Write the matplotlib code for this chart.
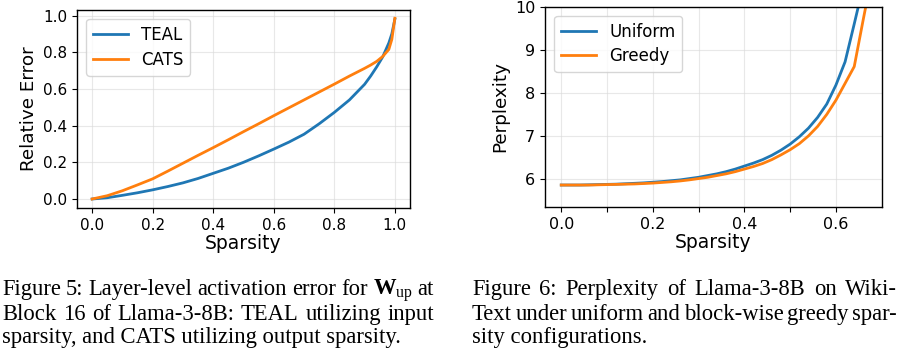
import matplotlib

matplotlib.use("Agg")
import matplotlib.pyplot as plt

plt.rcParams["font.family"] = "DejaVu Sans"
plt.rcParams["mathtext.fontset"] = "custom"
plt.rcParams["mathtext.rm"] = "Liberation Serif"
plt.rcParams["mathtext.bf"] = "Liberation Serif:bold"

# Figure 5: layer-level relative error vs sparsity
err_sparsity = [0.0, 0.05, 0.1, 0.15, 0.2, 0.25, 0.3, 0.35, 0.4, 0.45, 0.5, 0.55, 0.6,
                0.65, 0.7, 0.75, 0.8, 0.85, 0.9, 0.92, 0.94, 0.96, 0.98, 0.99, 1.0]
teal_error = [0.0, 0.007, 0.02, 0.034, 0.05, 0.068, 0.088, 0.112, 0.14, 0.168, 0.2, 0.235, 0.272,
              0.31, 0.353, 0.41, 0.472, 0.54, 0.625, 0.67, 0.72, 0.775, 0.85, 0.9, 0.98]
cats_error = [0.0, 0.018, 0.045, 0.077, 0.11, 0.152, 0.195, 0.238, 0.28, 0.323, 0.367, 0.41, 0.454,
              0.497, 0.54, 0.583, 0.626, 0.67, 0.712, 0.73, 0.75, 0.777, 0.815, 0.87, 0.985]

# Figure 6: perplexity vs sparsity
ppl_sparsity = [0.0, 0.02, 0.04, 0.06, 0.08, 0.1, 0.12, 0.14, 0.16, 0.18, 0.2, 0.22, 0.24, 0.26,
                0.28, 0.3, 0.32, 0.34, 0.36, 0.38, 0.4, 0.42, 0.44, 0.46, 0.48, 0.5, 0.52, 0.54,
                0.56, 0.58, 0.6, 0.62, 0.64, 0.66, 0.68]
uniform_ppl = [5.86, 5.86, 5.86, 5.865, 5.87, 5.875, 5.88, 5.89, 5.9, 5.91, 5.925, 5.94, 5.96, 5.98,
               6.01, 6.04, 6.08, 6.12, 6.17, 6.23, 6.3, 6.37, 6.45, 6.55, 6.67, 6.81, 6.98, 7.18,
               7.43, 7.74, 8.18, 8.72, 9.6, 10.5, 11.5]
greedy_ppl = [5.86, 5.86, 5.86, 5.86, 5.865, 5.87, 5.875, 5.88, 5.885, 5.895, 5.905, 5.92, 5.935, 5.955,
              5.98, 6.01, 6.04, 6.08, 6.12, 6.17, 6.23, 6.29, 6.36, 6.45, 6.56, 6.68, 6.82, 7.0,
              7.22, 7.5, 7.83, 8.22, 8.61, 9.72, 10.8]

caption_left = ["Figure 5: Layer-level activation error for $\\mathbf{W}_{\\mathrm{up}}$ at",
                "Block 16 of Llama-3-8B: TEAL utilizing input",
                "sparsity, and CATS utilizing output sparsity."]
caption_right = ["Figure 6:  Perplexity of Llama-3-8B on Wiki-",
                 "Text under uniform and block-wise greedy spar-",
                 "sity configurations."]

W, H = 908, 353
fig = plt.figure(figsize=(W / 100, H / 100), dpi=100)


def px_axes(left, top, right, bottom):
    return fig.add_axes([left / W, 1 - bottom / H, (right - left) / W, (bottom - top) / H])


def style(axis, size):
    axis.grid(True, color="0.85", linewidth=0.8, alpha=0.6)
    axis.tick_params(labelsize=size, length=3.5, width=0.8)
    for spine in axis.spines.values():
        spine.set_linewidth(1.0)


ax1 = px_axes(77, 10, 410, 208)
ax1.plot(err_sparsity, teal_error, color="tab:blue", linewidth=2.0, label="TEAL")
ax1.plot(err_sparsity, cats_error, color="tab:orange", linewidth=2.0, label="CATS")
ax1.set_xlim(-0.05, 1.05)
ax1.set_ylim(-0.049, 1.03)
ax1.set_xticks([0.0, 0.2, 0.4, 0.6, 0.8, 1.0])
ax1.set_yticks([0.0, 0.2, 0.4, 0.6, 0.8, 1.0])
ax1.set_xlabel("Sparsity", fontsize=13.5, labelpad=1)
ax1.set_ylabel("Relative Error", fontsize=13.2, labelpad=3.5)
style(ax1, 11)
ax1.legend(loc="upper left", fontsize=12, labelspacing=0.42, handlelength=2.1, borderaxespad=0.55)

ax2 = px_axes(545, 6.7, 881.7, 207)
ax2.plot(ppl_sparsity, uniform_ppl, color="tab:blue", linewidth=2.0, label="Uniform")
ax2.plot(ppl_sparsity, greedy_ppl, color="tab:orange", linewidth=2.0, label="Greedy")
ax2.set_xlim(-0.0355, 0.7)
ax2.set_ylim(5.35, 10)
xt = [0.0, 0.1, 0.2, 0.3, 0.4, 0.5, 0.6]
ax2.set_xticks(xt)
ax2.set_xticklabels([f"{v:.1f}" if i % 2 == 0 else "" for i, v in enumerate(xt)])
ax2.set_yticks([6, 7, 8, 9, 10])
ax2.set_xlabel("Sparsity", fontsize=13.5, labelpad=1)
ax2.set_ylabel("Perplexity", fontsize=13.2, labelpad=4.3)
style(ax2, 11.5)
ax2.legend(loc="upper left", fontsize=12, labelspacing=0.4, handlelength=2.1, borderaxespad=0.55)

# captions, justified like the paper
renderer = fig.canvas.get_renderer()
cap_font = dict(family="Liberation Serif", fontsize=16.3, va="baseline")


def caption(lines, x0, x1, baselines):
    for k, (line, base) in enumerate(zip(lines, baselines)):
        y = 1 - base / H
        if k == len(lines) - 1:
            fig.text(x0 / W, y, line, **cap_font)
            continue
        words = line.split()
        texts = [fig.text(0, y, w, **cap_font) for w in words]
        widths = [t.get_window_extent(renderer).width for t in texts]
        gap = (x1 - x0 - sum(widths)) / (len(words) - 1)
        x = x0
        for t, w in zip(texts, widths):
            t.set_x(x / W)
            x += w + gap


caption(caption_left, 2, 434, [295, 320, 343])
caption(caption_right, 472, 897, [295, 320, 343])

fig.savefig("out.png", dpi=100)
plt.close(fig)
